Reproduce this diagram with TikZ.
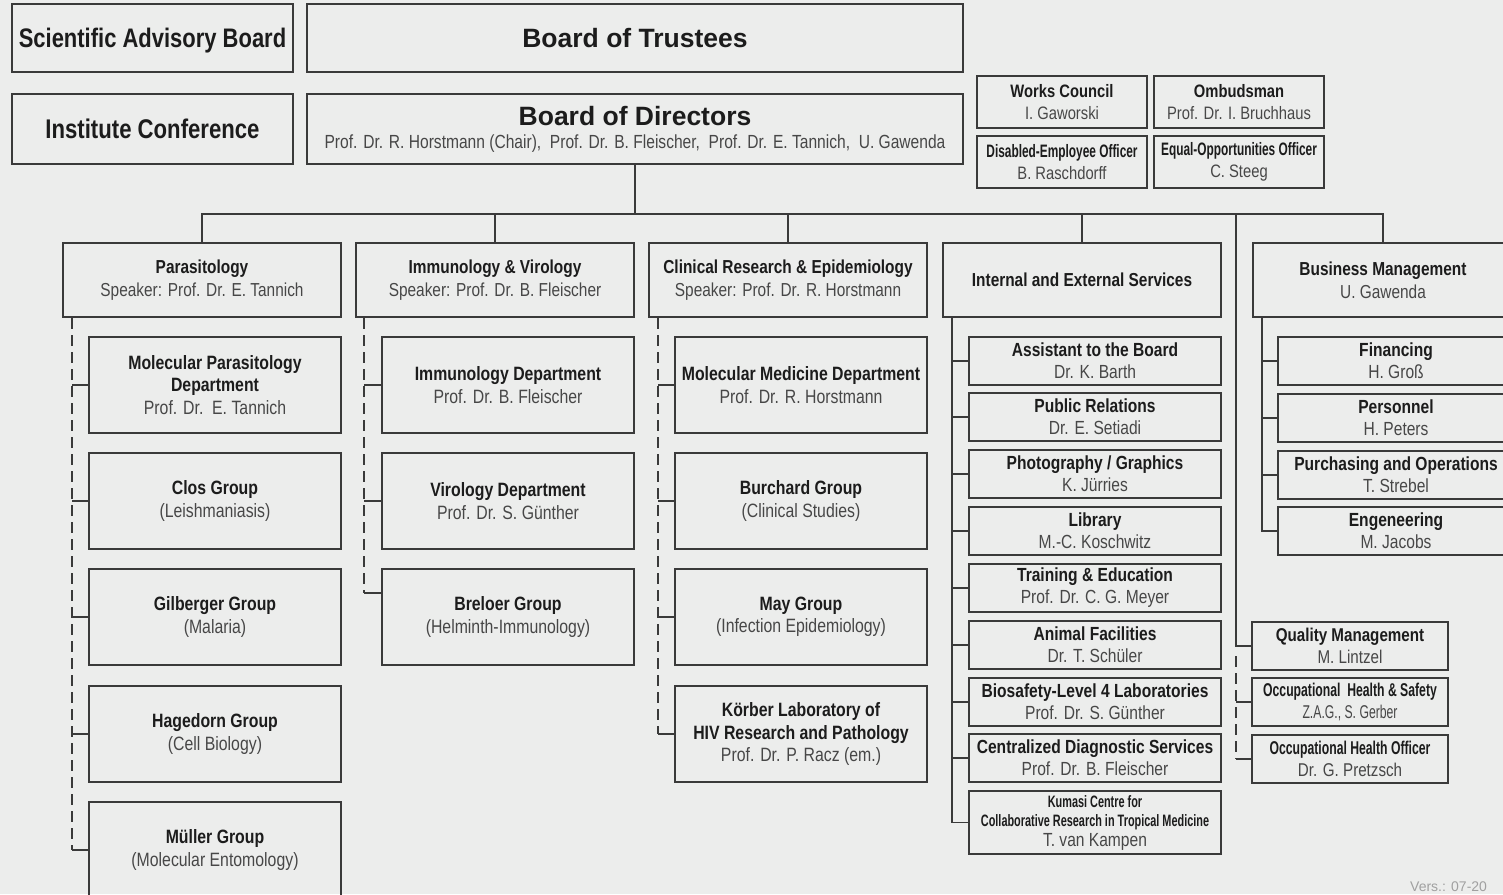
\documentclass[tikz,border=0pt]{standalone}
\usepackage{fontspec}
\setmainfont{Liberation Sans}
\newfontfamily\nar{Liberation Sans}[FakeStretch=0.82]
\newfontfamily\cnd{Liberation Sans}[FakeStretch=0.66]
\usetikzlibrary{calc}
\definecolor{bg}{HTML}{ECEDEC}
\definecolor{lc}{HTML}{3A3A3A}
\definecolor{tb}{HTML}{1C1C1C}
\definecolor{tr}{HTML}{474747}
\definecolor{tv}{HTML}{A0A0A0}
\newcommand\hd[1]{{\bfseries\color{tb}#1}}
\begin{document}
\begin{tikzpicture}[x=1pt,y=-1pt,
  bx/.style={draw=lc, line width=1.8pt, inner sep=0pt, outer sep=0pt, align=center, anchor=north west, text=tr},
  ln/.style={draw=lc, line width=1.6pt},
  dl/.style={ln, dash pattern=on 11pt off 6pt},
  head/.style={bx, minimum width=278pt, minimum height=74pt, font=\nar\fontsize{18.8}{23}\selectfont},
  sub/.style={bx, minimum width=252pt, minimum height=96pt, font=\nar\fontsize{19.3}{22.5}\selectfont},
  svc/.style={bx, minimum width=252pt, minimum height=48pt, font=\nar\fontsize{19}{22}\selectfont},
  biz/.style={bx, minimum width=236pt, minimum height=48pt, font=\nar\fontsize{19}{22}\selectfont},
  sml/.style={bx, minimum width=170pt, minimum height=52pt, font=\nar\fontsize{18}{22}\selectfont},
  qms/.style={bx, minimum width=196pt, minimum height=48pt, font=\nar\fontsize{18.5}{22}\selectfont}]
\fill[bg] (0,0) rectangle (1503,894);
\useasboundingbox (0,0) rectangle (1503,894);

% top row
\node[bx, minimum width=281pt, minimum height=68pt, text depth=0pt, font=\nar\fontsize{26.8}{30}\selectfont] (sab) at (12,4) {\hd{Scientific Advisory Board}};
\node[bx, minimum width=656pt, minimum height=68pt, font=\fontsize{26.5}{30}\selectfont] (bot) at (307,4) {\hd{Board of Trustees}};
\node[bx, minimum width=281pt, minimum height=70pt, font=\nar\fontsize{27}{30}\selectfont] (ic) at (12,94) {\hd{Institute Conference}};
\node[bx, minimum width=656pt, minimum height=70pt, font=\nar\fontsize{19}{23}\selectfont] (bod) at (307,94)
  {{\normalfont\fontsize{26.5}{23}\selectfont\hd{Board of Directors}}\\Prof. Dr. R. Horstmann (Chair),\ \ Prof. Dr. B. Fleischer,\ \ Prof. Dr. E. Tannich,\ \ U. Gawenda};

\node[sml] (wc) at (977,76) {\hd{Works Council}\\I. Gaworski};
\node[sml] (omb) at (1154,76) {\hd{Ombudsman}\\Prof. Dr. I. Bruchhaus};
\node[sml] (deo) at (977,136) {\hd{{\cnd Disabled-Employee Officer}}\\B. Raschdorff};
\node[sml] (eoo) at (1154,136) {\hd{{\cnd Equal-Opportunities Officer}}\\C. Steeg};

% column heads
\node[head] (par) at (63,243) {\hd{Parasitology}\\Speaker: Prof. Dr. E. Tannich};
\node[head] (imv) at (356,243) {\hd{Immunology \& Virology}\\Speaker: Prof. Dr. B. Fleischer};
\node[head] (cre) at (649,243) {\hd{Clinical Research \& Epidemiology}\\Speaker: Prof. Dr. R. Horstmann};
\node[head] (ies) at (943,243) {\hd{Internal and External Services}};
\node[head, minimum width=260pt] (bzm) at (1253,243) {\hd{Business Management}\\U. Gawenda};

% Parasitology
\node[sub] (mpd) at (89,337) {\hd{Molecular Parasitology}\\\hd{Department}\\Prof. Dr.\ \ E. Tannich};
\node[sub] (clos) at (89,453) {\hd{Clos Group}\\(Leishmaniasis)};
\node[sub] (gil) at (89,569) {\hd{Gilberger Group}\\(Malaria)};
\node[sub] (hag) at (89,686) {\hd{Hagedorn Group}\\(Cell Biology)};
\node[sub] (mue) at (89,802) {\hd{Müller Group}\\(Molecular Entomology)};

% Immunology
\node[sub] (imd) at (382,337) {\hd{Immunology Department}\\Prof. Dr. B. Fleischer};
\node[sub] (vir) at (382,453) {\hd{Virology Department}\\Prof. Dr. S. Günther};
\node[sub] (brl) at (382,569) {\hd{Breloer Group}\\(Helminth-Immunology)};

% Clinical
\node[sub] (mmd) at (675,337) {\hd{Molecular Medicine Department}\\Prof. Dr. R. Horstmann};
\node[sub] (bur) at (675,453) {\hd{Burchard Group}\\(Clinical Studies)};
\node[sub] (may) at (675,569) {\hd{May Group}\\(Infection Epidemiology)};
\node[sub] (koe) at (675,686) {\hd{Körber Laboratory of}\\\hd{HIV Research and Pathology}\\Prof. Dr. P. Racz (em.)};

% Services
\node[svc] (asb) at (969,337) {\hd{Assistant to the Board}\\Dr. K. Barth};
\node[svc] (pr) at (969,393) {\hd{Public Relations}\\Dr. E. Setiadi};
\node[svc] (pg) at (969,450) {\hd{Photography / Graphics}\\K. Jürries};
\node[svc] (lib) at (969,507) {\hd{Library}\\M.-C. Koschwitz};
\node[svc] (te) at (969,564) {\hd{Training \& Education}\\Prof. Dr. C. G. Meyer};
\node[svc] (af) at (969,621) {\hd{Animal Facilities}\\Dr. T. Schüler};
\node[svc] (bsl) at (969,678) {\hd{Biosafety-Level 4 Laboratories}\\Prof. Dr. S. Günther};
\node[svc] (cds) at (969,734) {\hd{Centralized Diagnostic Services}\\Prof. Dr. B. Fleischer};
\node[svc, minimum height=63pt, font=\cnd\fontsize{16.5}{19.5}\selectfont] (kum) at (969,791)
  {\hd{Kumasi Centre for}\\\hd{Collaborative Research in Tropical Medicine}\\{\nar\fontsize{19}{19}\selectfont T. van Kampen}};

% Business
\node[biz] (fin) at (1278,337) {\hd{Financing}\\H. Groß};
\node[biz] (per) at (1278,394) {\hd{Personnel}\\H. Peters};
\node[biz] (pao) at (1278,451) {\hd{Purchasing and Operations}\\T. Strebel};
\node[biz] (eng) at (1278,507) {\hd{Engeneering}\\M. Jacobs};

% staff units
\node[qms] (qm) at (1252,622) {\hd{Quality Management}\\M. Lintzel};
\node[qms] (ohs) at (1252,678) {\hd{{\cnd Occupational\ \ Health \& Safety}}\\{\cnd Z.A.G., S. Gerber}};
\node[qms] (oho) at (1252,735) {\hd{{\cnd Occupational Health Officer}}\\Dr. G. Pretzsch};

\node[anchor=base west, text=tv, inner sep=0pt, font=\fontsize{14}{17}\selectfont] (ver) at (1410,891) {Vers.: 07-20};

% connectors: top bus
\draw[ln] (bod.south) -- ++(0,50) coordinate (bj);
\draw[ln] (par.north) -- ++(0,-29) -| (bzm.north);
\foreach \n in {imv,cre,ies} \draw[ln] (\n.north) -- ++(0,-29);
\coordinate (vx) at (1236,214);
\draw[ln] (vx) |- (qm.west);
\coordinate (vq) at (1236,656);
\draw[dl] (vq) -- (vq |- oho.west);
\foreach \n in {ohs,oho} \draw[ln] (vq |- \n.west) -- (\n.west);

% Parasitology column
\coordinate (pv) at (72,318);
\draw[dl] (pv) -- (pv |- mue.west);
\foreach \n in {mpd,clos,gil,hag,mue} \draw[ln] (pv |- \n.west) -- (\n.west);

% Immunology column
\coordinate (iv) at (364,318);
\coordinate (brt) at ($(brl.north west)+(0,24)$);
\draw[dl] (iv) -- (iv |- brt);
\foreach \n in {imd,vir} \draw[ln] (iv |- \n.west) -- (\n.west);
\draw[ln] (iv |- brt) -- (brt);

% Clinical column
\coordinate (cv) at (658,318);
\draw[dl] (cv) -- (cv |- koe.west);
\foreach \n in {mmd,bur,may,koe} \draw[ln] (cv |- \n.west) -- (\n.west);

% Services column
\coordinate (sv) at (952,317);
\draw[ln] (sv) |- (kum.west);
\foreach \n in {asb,pr,pg,lib,te,af,bsl,cds} \draw[ln] (sv |- \n.west) -- (\n.west);

% Business column
\coordinate (bv) at (1262,317);
\draw[ln] (bv) |- (eng.west);
\foreach \n in {fin,per,pao} \draw[ln] (bv |- \n.west) -- (\n.west);
\end{tikzpicture}
\end{document}
